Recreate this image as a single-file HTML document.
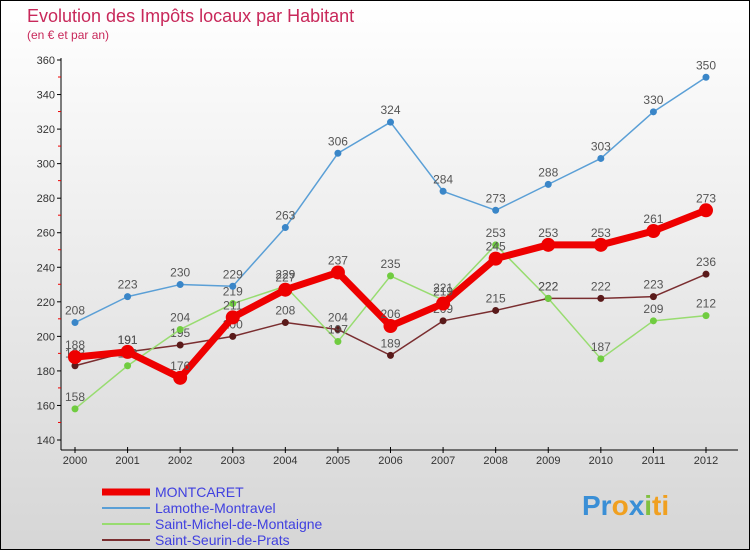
<!DOCTYPE html>
<html><head><meta charset="utf-8"><style>
body{margin:0;width:750px;height:550px;overflow:hidden;font-family:"Liberation Sans",sans-serif}
svg text{font-family:"Liberation Sans",sans-serif}
</style></head><body>
<svg id="c" width="750" height="550" xmlns="http://www.w3.org/2000/svg">
<defs><linearGradient id="bg" x1="0" y1="0" x2="0" y2="1"><stop offset="0" stop-color="#ffffff"/><stop offset="1" stop-color="#d6d6d6"/></linearGradient></defs>
<rect x="0.5" y="0.5" width="749" height="549" fill="url(#bg)" stroke="#000"/>
<text x="27" y="22" font-size="18" fill="#c8285a">Evolution des Impôts locaux par Habitant</text>
<text x="27" y="39" font-size="12" fill="#c8285a">(en € et par an)</text>
<g id="axes"></g><g id="series"></g><g id="legend"></g>
<text x="582" y="515" font-size="28" font-weight="bold" fill="#3a8fd6">Pr<tspan fill="#f0a020">o</tspan><tspan fill="#3a8fd6">x</tspan><tspan fill="#80c040">i</tspan><tspan fill="#f0a020">ti</tspan></text>
</svg>
<script>
const years=["2000","2001","2002","2003","2004","2005","2006","2007","2008","2009","2010","2011","2012"];
const yTicks=[140,160,180,200,220,240,260,280,300,320,340,360];
const montcaret=[188,191,176,211,227,237,206,219,245,253,253,261,273];
const lamothe=[208,223,230,229,263,306,324,284,273,288,303,330,350];
const stMichel=[158,183,204,219,229,197,235,221,253,222,187,209,212];
const stSeurin=[183,191,195,200,208,204,189,209,215,222,222,223,236];
const NS="http://www.w3.org/2000/svg";
const X=i=>75+i*(706-75)/12;
const Y=v=>440-(v-140)*380/220;
function mk(p,t,a){const e=document.createElementNS(NS,t);for(const k in a)e.setAttribute(k,a[k]);p.appendChild(e);return e;}
const ax=document.getElementById('axes');
let l=mk(ax,'line',{x1:61,y1:58,x2:61,y2:450,stroke:'#000'});


l=mk(ax,'line',{x1:61,y1:450,x2:738,y2:450,stroke:'#000'});


yTicks.forEach(v=>{
 mk(ax,'line',{x1:57,y1:Y(v),x2:61,y2:Y(v),stroke:'#000'});
 if(v>140) mk(ax,'line',{x1:58,y1:Y(v)+17,x2:61,y2:Y(v)+17,stroke:'#e00'});
 const t=mk(ax,'text',{x:55,y:Y(v)+4,'font-size':11,'text-anchor':'end',fill:'#333'});t.textContent=v;
 
 
});
years.forEach((y,i)=>{
 mk(ax,'line',{x1:X(i),y1:447,x2:X(i),y2:453,stroke:'#000'});
 const t=mk(ax,'text',{x:X(i),y:464,'font-size':11,'text-anchor':'middle',fill:'#333'});t.textContent=y;
 
 
});
const series=[
 {d:stSeurin,c:'#7a2e30',f:'#5a1a1a',w:1.5,r:3.5,n:'Saint-Seurin-de-Prats',id:'saint-seurin'},
 {d:stMichel,c:'#98dc70',f:'#70cc40',w:1.5,r:3.5,n:'Saint-Michel-de-Montaigne',id:'saint-michel'},
 {d:lamothe,c:'#5a9fd6',f:'#3a86c8',w:1.5,r:3.5,n:'Lamothe-Montravel',id:'lamothe'},
 {d:montcaret,c:'#ee0000',f:'#ee0000',w:7,r:7,n:'MONTCARET',id:'montcaret'}];
const sg=document.getElementById('series');
series.forEach(s=>{
 const g=mk(sg,'g',{});
 
 
 const p=mk(g,'polyline',{points:s.d.map((v,i)=>X(i)+','+Y(v)).join(' '),fill:'none',stroke:s.c,'stroke-width':s.w,'stroke-linejoin':'round'});
 
 
 s.d.forEach((v,i)=>{
  const c=mk(g,'circle',{cx:X(i),cy:Y(v),r:s.r,fill:s.f});
  
  
  const t=mk(g,'text',{x:X(i),y:Y(v)-8,'font-size':12,'text-anchor':'middle',fill:'#555'});t.textContent=v;
  
  
 });
});
const lg=document.getElementById('legend');
[series[3],series[2],series[1],series[0]].forEach((s,i)=>{
 const y=492+i*16;
 const g=mk(lg,'g',{});
 
 
 mk(g,'line',{x1:102,y1:y,x2:150,y2:y,stroke:s.c,'stroke-width':i==0?7:2});
 const t=mk(g,'text',{x:155,y:y+5,'font-size':14,fill:'#4040e0'});t.textContent=s.n;
});
</script>
</body></html>
